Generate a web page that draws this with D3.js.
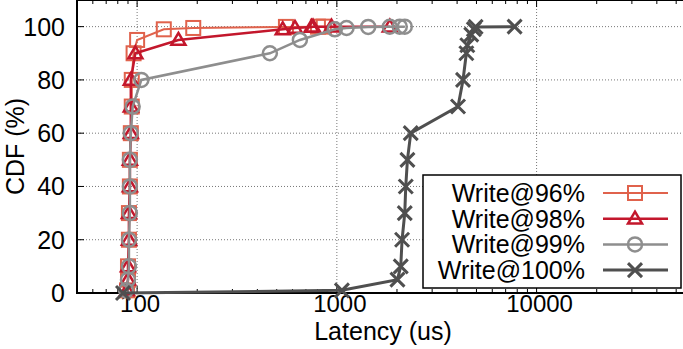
<!DOCTYPE html>
<html>
<head>
<meta charset="utf-8">
<script src="https://cdn.jsdelivr.net/npm/d3@7"></script>
<style>
  body { margin: 0; background: #fff; }
  svg text { font-family: "Liberation Sans", Arial, Helvetica, sans-serif; fill: #000; }
</style>
</head>
<body>
<div id="chart"></div>
<script>
// latency (us) and CDF (%)
const w96Lat = [89, 90, 90, 91, 91, 92, 92, 93, 94, 94, 96, 100, 136, 191, 556, 804, 860];
const w96Cdf = [1, 5, 10, 20, 30, 40, 50, 60, 70, 80, 90, 95, 99, 99.5, 99.9, 99.99, 100];

const w98Lat = [89, 90, 90, 91, 91, 92, 92, 93, 93, 93, 98, 161, 536, 617, 747, 760, 940, 1841];
const w98Cdf = [1, 5, 10, 20, 30, 40, 50, 60, 70, 80, 90, 95, 99, 99.5, 99.9, 99.95, 99.99, 100];

const w99Lat = [88, 90, 91, 91, 92, 92, 92, 93, 95, 105, 462, 653, 977, 1118, 1435, 1841, 2065, 2188];
const w99Cdf = [1, 5, 10, 20, 30, 40, 50, 60, 70, 80, 90, 95, 99, 99.5, 99.9, 99.95, 99.99, 100];

const w100Lat = [85, 1060, 2011, 2089, 2121, 2188, 2213, 2256, 2344, 4043, 4283, 4450, 4500, 4710, 4850, 4950, 7762];
const w100Cdf = [0, 1, 5, 10, 20, 30, 40, 50, 60, 70, 80, 90, 93, 97, 99, 99.9, 100];

const seriesNames = ["Write@96%", "Write@98%", "Write@99%", "Write@100%"];
const yTicks = [0, 20, 40, 60, 80, 100];
const xTicks = [100, 1000, 10000];

const svgWidth = 683, svgHeight = 349;
const margin = { top: 0, right: -9, bottom: 56, left: 77 };
const width = svgWidth - margin.left - margin.right;
const height = svgHeight - margin.top - margin.bottom;

const series = [
  { name: seriesNames[0], lat: w96Lat, cdf: w96Cdf, color: '#e0624c', shape: 'square', lw: 2 },
  { name: seriesNames[1], lat: w98Lat, cdf: w98Cdf, color: '#c3172c', shape: 'triangle', lw: 2.5 },
  { name: seriesNames[2], lat: w99Lat, cdf: w99Cdf, color: '#8e8e8e', shape: 'circle', lw: 2.5 },
  { name: seriesNames[3], lat: w100Lat, cdf: w100Cdf, color: '#4f4f4f', shape: 'cross', lw: 3 }
];

const xScale = d3.scaleLog().domain([50, 60000]).range([0, width]);
const yScale = d3.scaleLinear().domain([0, 110]).range([height, 0]);

const svg = d3.select('#chart').append('svg')
  .attr('width', svgWidth)
  .attr('height', svgHeight);

const chart = svg.append('g')
  .attr('transform', `translate(${margin.left}, ${margin.top})`);

// dotted grid
chart.append('g')
  .selectAll('line')
  .data(yTicks.slice(1))
  .enter().append('line')
  .attr('x1', 0).attr('x2', width)
  .attr('y1', d => yScale(d)).attr('y2', d => yScale(d))
  .attr('stroke', '#777').attr('stroke-width', 1).attr('stroke-dasharray', '1,2');

chart.append('g')
  .selectAll('line')
  .data(xTicks)
  .enter().append('line')
  .attr('x1', d => xScale(d)).attr('x2', d => xScale(d))
  .attr('y1', 0).attr('y2', height)
  .attr('stroke', '#777').attr('stroke-width', 1).attr('stroke-dasharray', '1,2');

// minor log ticks, bottom and top, pointing inward
const minor = [];
[10, 100, 1000, 10000].forEach(dec => {
  for (let k = 1; k < 10; k++) {
    const v = dec * k;
    if (v >= 50 && v <= 60000) minor.push(v);
  }
});

const tickG = chart.append('g').attr('stroke', '#000').attr('stroke-width', 1);
minor.forEach(v => {
  const major = xTicks.includes(v);
  const len = major ? 7 : 4;
  tickG.append('line')
    .attr('x1', xScale(v)).attr('x2', xScale(v))
    .attr('y1', height).attr('y2', height - len);
  tickG.append('line')
    .attr('x1', xScale(v)).attr('x2', xScale(v))
    .attr('y1', 0).attr('y2', len);
});
yTicks.forEach(v => {
  tickG.append('line')
    .attr('x1', 0).attr('x2', 7)
    .attr('y1', yScale(v)).attr('y2', yScale(v));
});

// frame
chart.append('path')
  .attr('d', `M${width},0H0V${height}H${width}`)
  .attr('fill', 'none').attr('stroke', '#000').attr('stroke-width', 2);

// tick labels
chart.append('g')
  .selectAll('text')
  .data(yTicks)
  .enter().append('text')
  .attr('x', -12)
  .attr('y', d => yScale(d))
  .attr('dy', '0.36em')
  .attr('text-anchor', 'end')
  .attr('font-size', 25)
  .text(d => d);

chart.append('g')
  .selectAll('text')
  .data(xTicks)
  .enter().append('text')
  .attr('x', d => xScale(d) + 3)
  .attr('y', height + 19)
  .attr('text-anchor', 'middle')
  .attr('font-size', 24)
  .text(d => d);

svg.append('text')
  .attr('x', 383)
  .attr('y', 340)
  .attr('text-anchor', 'middle')
  .attr('font-size', 25)
  .text('Latency (us)');

svg.append('text')
  .attr('transform', `translate(24, ${margin.top + height / 2}) rotate(-90)`)
  .attr('text-anchor', 'middle')
  .attr('font-size', 25)
  .text('CDF (%)');

// markers
function marker(g, shape, color, lw) {
  const s = 7;
  if (shape === 'square') {
    g.append('rect').attr('x', -s).attr('y', -s).attr('width', 2 * s).attr('height', 2 * s)
      .attr('fill', 'none').attr('stroke', color).attr('stroke-width', 2);
  } else if (shape === 'triangle') {
    g.append('path').attr('d', `M0,${-s}L${s},${s * 0.7}L${-s},${s * 0.7}Z`)
      .attr('fill', 'none').attr('stroke', color).attr('stroke-width', 2.5);
  } else if (shape === 'circle') {
    g.append('circle').attr('r', s)
      .attr('fill', 'none').attr('stroke', color).attr('stroke-width', 2.5);
  } else {
    g.append('path').attr('d', `M${-s},${-s}L${s},${s}M${-s},${s}L${s},${-s}`)
      .attr('fill', 'none').attr('stroke', color).attr('stroke-width', 3);
  }
}

const line = d3.line().x(d => xScale(d[0])).y(d => yScale(d[1]));

series.forEach(sr => {
  const pts = sr.lat.map((v, i) => [v, sr.cdf[i]]);
  const g = chart.append('g');
  g.append('path')
    .datum(pts)
    .attr('d', line)
    .attr('fill', 'none')
    .attr('stroke', sr.color)
    .attr('stroke-width', sr.lw);
  g.selectAll('g.pt')
    .data(pts)
    .enter().append('g')
    .attr('class', 'pt')
    .attr('transform', d => `translate(${xScale(d[0])}, ${yScale(d[1])})`)
    .each(function () { marker(d3.select(this), sr.shape, sr.color, sr.lw); });
});

// legend
const legend = svg.append('g');
legend.append('rect')
  .attr('x', 423).attr('y', 175).attr('width', 258).attr('height', 113)
  .attr('fill', '#fff').attr('stroke', '#000').attr('stroke-width', 1.5);

series.forEach((sr, i) => {
  const cy = 193 + i * 25.7;
  legend.append('text')
    .attr('x', 585).attr('y', cy).attr('dy', '0.36em')
    .attr('text-anchor', 'end').attr('font-size', 25)
    .text(sr.name);
  legend.append('line')
    .attr('x1', 603).attr('x2', 668).attr('y1', cy).attr('y2', cy)
    .attr('stroke', sr.color).attr('stroke-width', sr.lw);
  const mg = legend.append('g').attr('transform', `translate(635, ${cy})`);
  marker(mg, sr.shape, sr.color, sr.lw);
});
</script>
</body>
</html>
